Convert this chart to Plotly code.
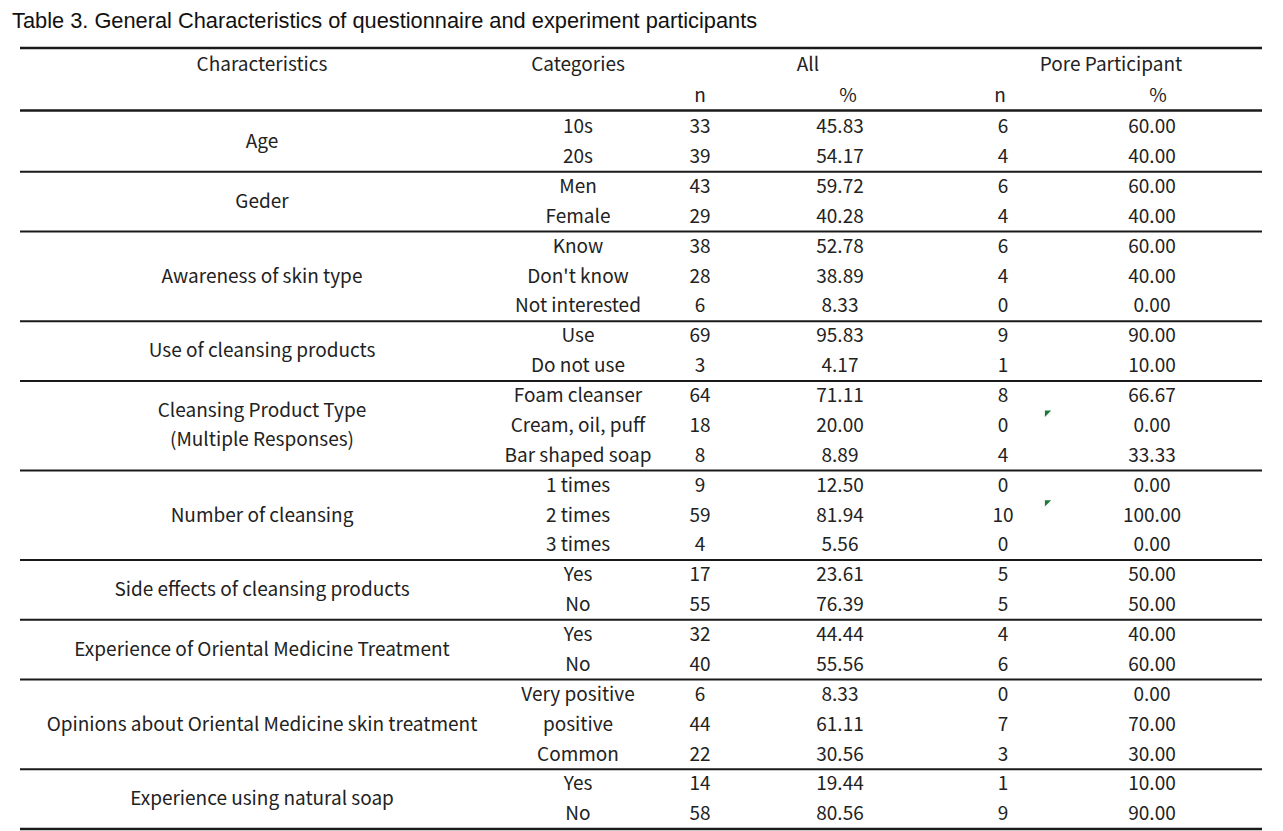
import plotly.graph_objects as go

# ---------------- data ----------------
characteristics = [
    ["Age"],
    ["Geder"],
    ["Awareness of skin type"],
    ["Use of cleansing products"],
    ["Cleansing Product Type", "(Multiple Responses)"],
    ["Number of cleansing"],
    ["Side effects of cleansing products"],
    ["Experience of Oriental Medicine Treatment"],
    ["Opinions about Oriental Medicine skin treatment"],
    ["Experience using natural soap"],
]
group_sizes = [2, 2, 3, 2, 3, 3, 2, 2, 3, 2]
categories = [
    "10s", "20s",
    "Men", "Female",
    "Know", "Don't know", "Not interested",
    "Use", "Do not use",
    "Foam cleanser", "Cream, oil, puff", "Bar shaped soap",
    "1 times", "2 times", "3 times",
    "Yes", "No",
    "Yes", "No",
    "Very positive", "positive", "Common",
    "Yes", "No",
]
all_n = [33, 39, 43, 29, 38, 28, 6, 69, 3, 64, 18, 8, 9, 59, 4, 17, 55, 32, 40, 6, 44, 22, 14, 58]
all_pct = [45.83, 54.17, 59.72, 40.28, 52.78, 38.89, 8.33, 95.83, 4.17, 71.11, 20.00, 8.89,
           12.50, 81.94, 5.56, 23.61, 76.39, 44.44, 55.56, 8.33, 61.11, 30.56, 19.44, 80.56]
pore_n = [6, 4, 6, 4, 6, 4, 0, 9, 1, 8, 0, 4, 0, 10, 0, 5, 5, 4, 6, 0, 7, 3, 1, 9]
pore_pct = [60.00, 40.00, 60.00, 40.00, 60.00, 40.00, 0.00, 90.00, 10.00, 66.67, 0.00, 33.33,
            0.00, 100.00, 0.00, 50.00, 50.00, 40.00, 60.00, 0.00, 70.00, 30.00, 10.00, 90.00]
comment_rows = [10, 13]  # rows carrying a spreadsheet comment marker

title = "Table 3. General Characteristics of questionnaire and experiment participants"
header1 = ["Characteristics", "Categories", "All", "Pore Participant"]
header2 = ["n", "%", "n", "%"]

# ---------------- layout constants ----------------
W, H = 1283, 831
PAGE_OFF = 8  # default body margin of the html page
Y0, PITCH = 127, 29.87
TEXT_DY = 1.5
X_CHAR, X_CAT, X_AN, X_AP, X_PN, X_PP = 262, 578, 700, 840, 1003, 1152
X_L, X_R = 20, 1262
FONT = "Noto Sans CJK KR"
FS = 19
TXT = "#222222"
LINE = "#1a1a1a"

def row_y(i):
    return Y0 + i * PITCH

n_rows = len(categories)
rows = list(range(n_rows))
ys = [row_y(i) + TEXT_DY for i in rows]

fig = go.Figure()

def add_text(xs, yv, texts, size=FS, color=TXT, family=FONT):
    fig.add_trace(go.Scatter(
        x=xs, y=yv, text=texts, mode="text",
        textposition="middle center",
        textfont=dict(family=family, size=size, color=color),
        hoverinfo="skip", showlegend=False))

# body columns
add_text([X_CAT] * n_rows, ys, categories)
add_text([X_AN] * n_rows, ys, [str(v) for v in all_n])
add_text([X_AP] * n_rows, ys, [f"{v:.2f}" for v in all_pct])
add_text([X_PN] * n_rows, ys, [str(v) for v in pore_n])
add_text([X_PP] * n_rows, ys, [f"{v:.2f}" for v in pore_pct])

# characteristic labels centred on their group
cx, cy, ct = [], [], []
start = 0
bounds = []
for label, size in zip(characteristics, group_sizes):
    centre = (row_y(start) + row_y(start + size - 1)) / 2 + TEXT_DY
    k = len(label)
    for j, line in enumerate(label):
        cx.append(X_CHAR)
        cy.append(centre + (j - (k - 1) / 2) * PITCH * 0.97)
        ct.append(line)
    start += size
    bounds.append(start)
add_text(cx, cy, ct)

# header
HY1, HY2 = 66, 97
add_text([X_CHAR, X_CAT, 808, 1111], [HY1] * 4, header1)
add_text([X_AN, 848, 1000, 1158], [HY2] * 4, header2)

# title
fig.add_annotation(x=10, y=20, xref="x", yref="y", text=title, showarrow=False,
                   xanchor="left", yanchor="middle",
                   font=dict(family="Liberation Sans", size=21.8, color="#111111"))

# comment markers
fig.add_trace(go.Scatter(
    x=[1047] * len(comment_rows), y=[row_y(r) - 13 for r in comment_rows],
    mode="markers", marker=dict(symbol="triangle-nw", size=7, color="#1f7a3a"),
    hoverinfo="skip", showlegend=False))

# rules
def hline(y, w):
    fig.add_shape(type="line", xref="x", yref="y", x0=X_L, x1=X_R, y0=y, y1=y,
                  line=dict(color=LINE, width=w))

hline(48, 2.5)
hline(row_y(0) - PITCH / 2 - 1.5, 2.5)
for b in bounds:
    hline(row_y(b) - PITCH / 2, 2.5 if b == n_rows else 2)

fig.update_xaxes(range=[PAGE_OFF, W], visible=False, fixedrange=True)
fig.update_yaxes(range=[H, PAGE_OFF], visible=False, fixedrange=True)
fig.update_layout(width=W - PAGE_OFF, height=H - PAGE_OFF,
                  margin=dict(l=0, r=0, t=0, b=0),
                  paper_bgcolor="white", plot_bgcolor="white")

fig.write_html("out.html")
